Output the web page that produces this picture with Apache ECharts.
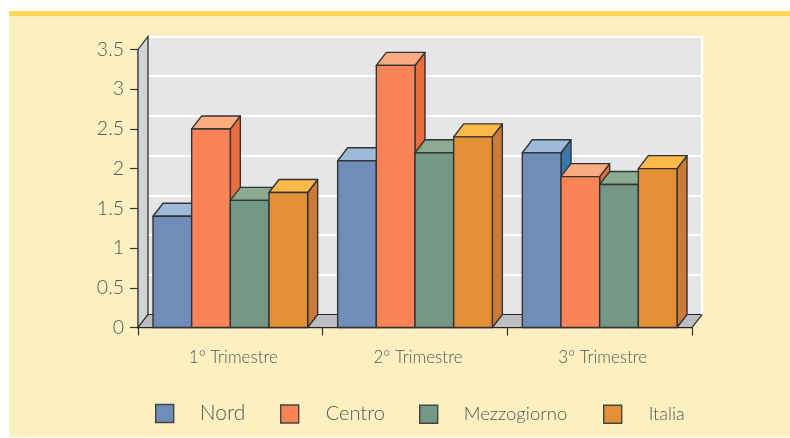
<!DOCTYPE html>
<html><head><meta charset="utf-8">
<style>
html,body{margin:0;padding:0;background:#fff;width:790px;height:438px;overflow:hidden}
#panel{position:absolute;left:9px;top:11px;width:781px;height:426px;background:#FDF0C0;border-top:5px solid #FFD658;box-sizing:border-box}
#c{position:absolute;left:0;top:0;width:790px;height:438px}
</style>
<script src="https://cdn.jsdelivr.net/npm/echarts@6/dist/echarts.min.js"></script>
</head><body><div id="panel"></div><div id="c"></div>
<script>
const categories = ['1° Trimestre','2° Trimestre','3° Trimestre'];
const yTicks = [0,0.5,1,1.5,2,2.5,3,3.5];
const nord = [1.4,2.1,2.2];
const centro = [2.5,3.3,1.9];
const mezzogiorno = [1.6,2.2,1.8];
const italia = [1.7,2.4,2.0];
const names = ['Nord','Centro','Mezzogiorno','Italia'];
const palette = [
 {front:'#6F8DB8',top:'#9DBBD9',side:'#3878B0'},
 {front:'#F98457',top:'#FBAB80',side:'#EA6D40'},
 {front:'#739888',top:'#8BAC90',side:'#5F8877'},
 {front:'#E28F35',top:'#FDB84B',side:'#CB7B39'}
];
const DX = 10, DY = -13, EDGE = '#333', TXT = '#555555', FONT = 'Lato';
const GROUP_PAD = 0.0812;

const chart = echarts.init(document.getElementById('c'), null, {renderer:'canvas'});

function barItem(si){
  return function(params, api){
    const cat = api.value(0), val = api.value(1);
    const band = api.size([1,0])[0];
    const w = band*(1-2*GROUP_PAD)/4;
    const p0 = api.coord([cat,0]), p1 = api.coord([cat,val]);
    const x = p0[0]-band/2+band*GROUP_PAD+si*w, y0 = p0[1], y1 = p1[1];
    const st = c => ({fill:c, stroke:EDGE, lineWidth:1.4, lineJoin:'round'});
    return {type:'group',children:[
      {type:'polygon',shape:{points:[[x+w,y1],[x+w+DX,y1+DY],[x+w+DX,y0+DY],[x+w,y0]]},style:st(palette[si].side)},
      {type:'polygon',shape:{points:[[x,y1],[x+DX,y1+DY],[x+w+DX,y1+DY],[x+w,y1]]},style:st(palette[si].top)},
      {type:'rect',shape:{x:x,y:y1,width:w,height:y0-y1},style:st(palette[si].front)}
    ]};
  };
}
function wallItem(params, api){
  const c = params.coordSys;
  const L=c.x, R=c.x+c.width, T=c.y, B=c.y+c.height;
  return {type:'group',children:[
    {type:'polygon',shape:{points:[[L,T],[L+DX,T+DY],[L+DX,B+DY],[L,B]]},style:{fill:'#D1D3D4',stroke:'#222',lineWidth:1.2}},
    {type:'polygon',shape:{points:[[L,B],[L+DX,B+DY],[R+DX,B+DY],[R,B]]},style:{fill:'#BCBDC0',stroke:'#222',lineWidth:1.2}},
    {type:'line',shape:{x1:R+DX,y1:T+DY,x2:R+DX,y2:B+DY},style:{stroke:'#fff',lineWidth:2}}
  ]};
}
const seriesData = [nord,centro,mezzogiorno,italia];
const series = [
  {type:'custom',name:'walls',xAxisIndex:0,yAxisIndex:0,z:1,silent:true,renderItem:wallItem,data:[[0,0]],clip:false}
].concat(names.map((n,si)=>({
  type:'custom',name:n,xAxisIndex:0,yAxisIndex:0,z:3+si,clip:false,
  itemStyle:{color:palette[si].front},
  encode:{x:0,y:1},
  renderItem:barItem(si),
  data:seriesData[si].map((v,i)=>[i,v])
})));
const legendPos = [[155,14],[280,14],[419,14],[603,14]];
const legendFont = [21,20,18.5,18];
const legendTextGap = [21,22,21,22];
chart.setOption({
  animation:false,
  backgroundColor:'transparent',
  textStyle:{fontFamily:FONT,fontWeight:300},
  grid:[
    {left:138,right:98,top:49.5,bottom:110.5},
    {left:148,right:88,top:36.5,bottom:123.5,show:true,backgroundColor:'#E5E6E8',borderWidth:0}
  ],
  xAxis:[
    {type:'category',gridIndex:0,data:categories,
     axisLine:{lineStyle:{color:'#333',width:1.4}},
     axisTick:{show:true,length:8,alignWithLabel:false,lineStyle:{color:'#333',width:1.2}},
     axisLabel:{color:TXT,fontSize:17,margin:22,fontFamily:FONT,fontWeight:300,padding:[0,0,0,6]}},
    {type:'category',gridIndex:1,data:categories,show:false}
  ],
  yAxis:[
    {type:'value',gridIndex:0,min:0,max:3.5,interval:0.5,
     axisLine:{show:true,lineStyle:{color:'#333',width:1.4}},
     axisTick:{show:true,length:8,lineStyle:{color:'#333',width:1.2}},
     splitLine:{show:false},
     axisLabel:{color:TXT,fontSize:19.5,margin:14,fontFamily:FONT,fontWeight:300,
       formatter:v=>String(yTicks[Math.round(v/0.5)])}},
    {type:'value',gridIndex:1,min:0,max:3.5,interval:0.5,
     axisLine:{show:false},axisTick:{show:false},axisLabel:{show:false},
     splitLine:{show:true,lineStyle:{color:'#fff',width:2}}}
  ],
  legend:names.map((n,i)=>({
    data:[{name:n,icon:'rect'}],left:legendPos[i][0],bottom:legendPos[i][1],padding:0,
    itemWidth:18,itemHeight:18,selectedMode:false,
    itemStyle:{color:palette[i].front,borderColor:'#444',borderWidth:1.4},
    textStyle:{color:TXT,fontSize:legendFont[i],fontFamily:FONT,fontWeight:300,padding:[0,0,0,legendTextGap[i]]}
  })),
  series:series
});
</script></body></html>
